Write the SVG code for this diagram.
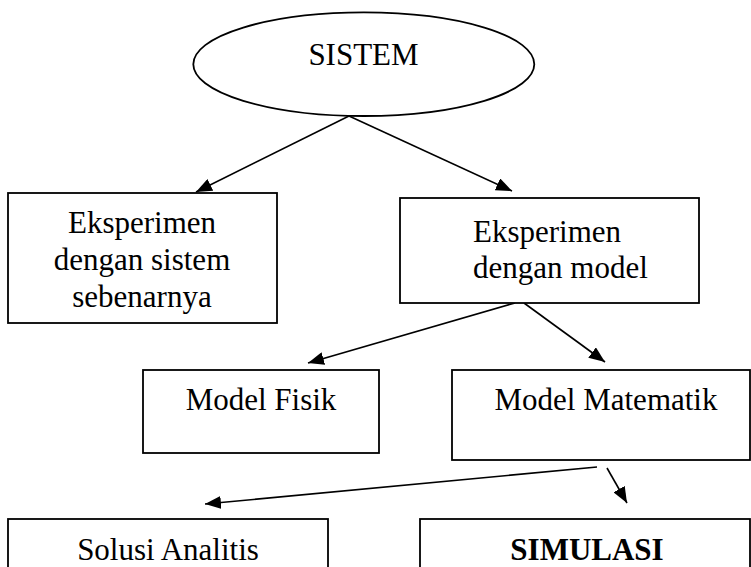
<svg xmlns="http://www.w3.org/2000/svg" width="751" height="567" viewBox="0 0 751 567">
  <style>
    .box { fill: #ffffff; stroke: #000000; stroke-width: 1.8; }
    .lbl { font-family: "Liberation Serif", "Times New Roman", serif; font-size: 31px; fill: #000000; }
    .mid { text-anchor: middle; }
    .edge { stroke: #000000; stroke-width: 1.6; fill: none; marker-end: url(#head); }
  </style>
  <defs>
    <marker id="head" markerUnits="userSpaceOnUse" markerWidth="17" markerHeight="13" refX="16" refY="6.5" orient="auto">
      <path d="M0,0 L16,6.5 L0,13 z" fill="#000000"/>
    </marker>
  </defs>
  <rect width="751" height="567" fill="#ffffff"/>

  <g id="connectors">
    <line class="edge" x1="349" y1="116" x2="196" y2="192"/>
    <line class="edge" x1="349" y1="116" x2="512" y2="191"/>
    <line class="edge" x1="515" y1="303" x2="308" y2="363"/>
    <line class="edge" x1="524" y1="303" x2="605" y2="362"/>
    <line class="edge" x1="597" y1="467" x2="205" y2="504"/>
    <line class="edge" x1="607" y1="468" x2="627" y2="503"/>
  </g>

  <g id="sistem">
    <ellipse class="box" cx="363.8" cy="64.2" rx="170.5" ry="51.8"/>
    <text class="lbl mid" x="363.5" y="65">SISTEM</text>
  </g>

  <g id="eksperimen-sistem">
    <rect class="box" x="8" y="193" width="269" height="130"/>
    <text class="lbl mid" x="142" y="233">Eksperimen</text>
    <text class="lbl mid" x="142" y="270">dengan sistem</text>
    <text class="lbl mid" x="142" y="307">sebenarnya</text>
  </g>

  <g id="eksperimen-model">
    <rect class="box" x="400" y="198" width="299" height="105"/>
    <text class="lbl" x="473" y="242">Eksperimen</text>
    <text class="lbl" x="473" y="278">dengan model</text>
  </g>

  <g id="model-fisik">
    <rect class="box" x="143" y="370" width="236" height="83"/>
    <text class="lbl mid" x="261" y="410">Model Fisik</text>
  </g>

  <g id="model-matematik">
    <rect class="box" x="452" y="370" width="298" height="90"/>
    <text class="lbl mid" x="606" y="410">Model Matematik</text>
  </g>

  <g id="solusi-analitis">
    <rect class="box" x="8" y="519" width="320" height="60"/>
    <text class="lbl mid" x="168" y="560">Solusi Analitis</text>
  </g>

  <g id="simulasi">
    <rect class="box" x="420" y="519" width="330" height="60"/>
    <text class="lbl mid" x="587" y="560" font-weight="bold">SIMULASI</text>
  </g>
</svg>
